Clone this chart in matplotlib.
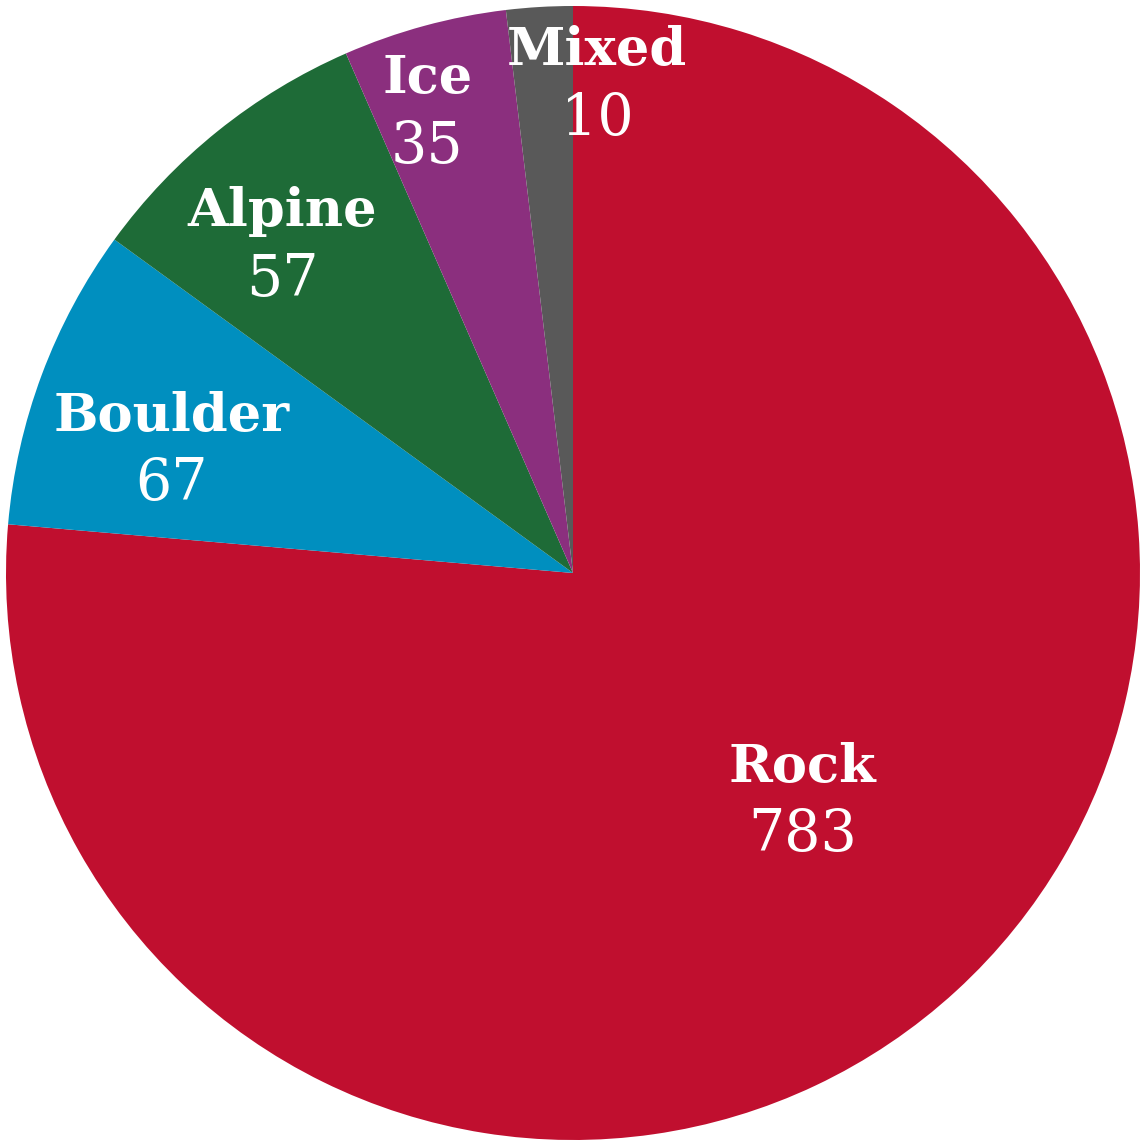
import numpy as np
import matplotlib
matplotlib.use('Agg')
import matplotlib.pyplot as plt

# categories, counts shown in the labels, and wedge shares
categories = ['Rock', 'Boulder', 'Alpine', 'Ice', 'Mixed']
counts = [783, 67, 57, 35, 10]
shares = [76.4, 8.64, 8.44, 4.67, 1.89]

colors = ['#C00F2F', '#008FBF', '#1E6B37', '#8B2F7E', '#595959']
# label placement (fraction of radius, angle nudge in degrees)
label_r = [0.572, 0.74, 0.77, 0.85, 0.86]
label_nudge = [2.5, 3.6, 2.9, 2.4, -6.2]

fig = plt.figure(figsize=(11.47, 11.47), dpi=100)
ax = fig.add_axes([0, 0, 1, 1])

wedges, _ = ax.pie(shares, colors=colors, startangle=90, counterclock=False,
                   radius=1.0, wedgeprops=dict(linewidth=0))

for w, name, n, r, dth in zip(wedges, categories, counts, label_r, label_nudge):
    mid = np.deg2rad((w.theta1 + w.theta2) / 2. + dth)
    x = r * np.cos(mid)
    y = r * np.sin(mid)
    ax.text(x, y + 0.062, name, ha='center', va='center', color='white',
            fontsize=38, fontweight='bold', family='DejaVu Serif')
    ax.text(x, y - 0.058, str(n), ha='center', va='center', color='white',
            fontsize=41, fontweight='light', family='DejaVu Serif')

ax.set_xlim(-573 / 567., 574 / 567.)
ax.set_ylim(-574 / 567., 573 / 567.)
ax.set_aspect('equal')
ax.axis('off')

fig.savefig('out.png', dpi=100, facecolor='white')
